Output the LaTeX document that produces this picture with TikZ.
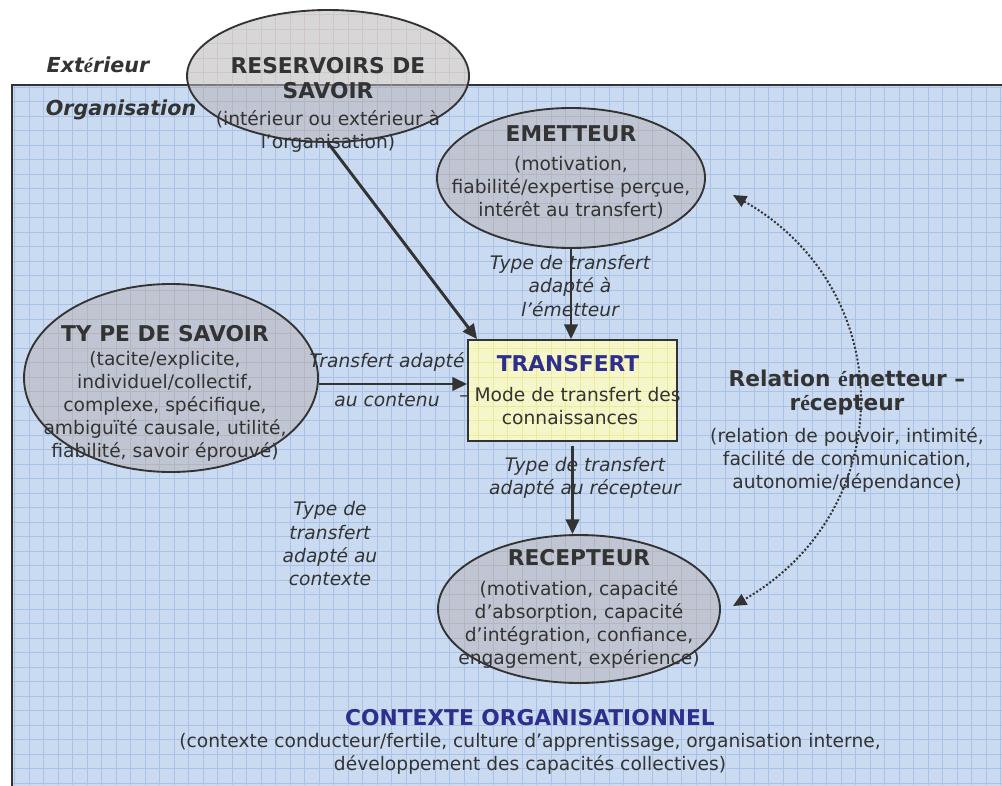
\documentclass[tikz,border=0pt]{standalone}
\usepackage{fontspec}
\setmainfont{DejaVu Sans}
\newfontfamily\serifE{Liberation Serif}
\usetikzlibrary{shapes.geometric,arrows.meta}
\definecolor{txt}{HTML}{333333}
\definecolor{bluebg}{HTML}{CADBF1}
\definecolor{bluegrid}{HTML}{A9C3E8}
\definecolor{ellfill}{RGB}{182,180,186}
\definecolor{ellgrid}{RGB}{196,170,160}
\definecolor{boxfill}{HTML}{F6F6CB}
\definecolor{boxgrid}{HTML}{EBEB9A}
\definecolor{titleblue}{HTML}{2E2E8E}
\newcommand\myellipse[5]{%
  \fill[ellfill, opacity=0.55] (#2,#3) ellipse [x radius=#4/2, y radius=#5/2];
  \begin{scope}
    \clip (#2,#3) ellipse [x radius=#4/2, y radius=#5/2];
    \draw[ellgrid, opacity=0.35, line width=0.4pt, step=10.875pt] (0,0) grid (1002,785);
  \end{scope}
  \node[ell, minimum width=#4, minimum height=#5] (#1) at (#2,#3) {};
}
\begin{document}
\begin{tikzpicture}[x=0.75pt,y=-0.75pt,
 ell/.style={ellipse, draw=txt, line width=1.4pt, inner sep=0pt},
 body/.style={text=txt, align=center, font=\fontsize{14}{17.25}\selectfont},
 head/.style={text=txt, align=center, font=\fontsize{16.3}{18.75}\selectfont\bfseries},
 lab/.style={text=txt, align=center, font=\fontsize{14}{17.5}\selectfont\itshape},
 arr/.style={draw=txt, line width=2.2pt, -{Triangle[length=11pt,width=10pt]}},
]
\useasboundingbox (0,0) rectangle (1002,785);
% organisation area
\fill[bluebg] (12,85) rectangle (1010,800);
\begin{scope}
  \clip (12,85) rectangle (1010,800);
  \draw[bluegrid, line width=0.5pt, step=10.875pt] (0,0) grid (1002,785);
\end{scope}
\draw[txt, line width=1.6pt] (12,800) -- (12,85) -- (1010,85);

\node[text=txt, font=\fontsize{15.5}{18}\selectfont\bfseries\itshape] (ext) at (98,65) {Ext{\serifE é}rieur};
\node[text=txt, font=\fontsize{15.5}{18}\selectfont\bfseries\itshape] (org) at (121,110) {Organisation};

% ellipses
\myellipse{res}{328}{76}{211.5pt}{99pt}
\myellipse{emet}{571}{178}{201pt}{105pt}
\myellipse{sav}{171}{378}{220.5pt}{141pt}
\myellipse{rec}{579}{609}{211.5pt}{111pt}

% transfert box
\fill[boxfill] (468,340) rectangle (677,441);
\begin{scope}
  \clip (468,340) rectangle (677,441);
  \draw[boxgrid, line width=0.4pt, step=10.875pt] (0,0) grid (1002,785);
\end{scope}
\node[draw=txt, line width=1.4pt, minimum width=156.75pt, minimum height=75.75pt, inner sep=0pt] (tr) at (572.5,390.5) {};

% texts
\node[head] (resT) at (328,78) {RESERVOIRS DE\\SAVOIR};
\node[body] (resB) at (328,131) {(intérieur ou extérieur à\\l’organisation)};
\node[head] (emetT) at (571,134) {EMETTEUR};
\node[body] (emetB) at (571,188) {(motivation,\\fiabilité/expertise perçue,\\intérêt au transfert)};
\node[head] (savT) at (165,334) {TY PE DE SAVOIR};
\node[body] (savB) at (165,406) {(tacite/explicite,\\individuel/collectif,\\complexe, spécifique,\\ambiguïté causale, utilité,\\fiabilité, savoir éprouvé)};
\node[head, text=titleblue] (trT) at (568,364) {TRANSFERT};
\node[body] (trB) at (570,406) {– Mode de transfert des\\connaissances};
\node[head] (recT) at (579,558) {RECEPTEUR};
\node[body] (recB) at (579,624) {(motivation, capacité\\d’absorption, capacité\\d’intégration, confiance,\\engagement, expérience)};
\node[head, font=\fontsize{16.3}{18}\selectfont\bfseries] (relT) at (847,392) {Relation {\serifE é}metteur –\\r{\serifE é}cepteur};
\node[body] (relB) at (847,460) {(relation de pouvoir, intimité,\\facilité de communication,\\autonomie/dépendance)};
\node[head, text=titleblue] (ctxT) at (530,718) {CONTEXTE ORGANISATIONNEL};
\node[body] (ctxB) at (530,754) {(contexte conducteur/fertile, culture d’apprentissage, organisation interne,\\développement des capacités collectives)};

\node[lab] (l1) at (570,286) {Type de transfert\\adapté à\\l’émetteur};
\node[lab] (l2) at (387,362) {Transfert adapté};
\node[lab] (l3) at (387,400) {au contenu};
\node[lab] (l4) at (585,478) {Type de transfert\\adapté au récepteur};
\node[lab] (l5) at (330,544) {Type de\\transfert\\adapté au\\contexte};

% arrows
\draw[arr] (res.south) -- ([xshift=7.5pt]tr.north west);
\draw[arr] (emet.south) -- (emet.south |- tr.north);
\draw[arr] (sav.east |- 0,384) -- (tr.west |- 0,384);
\draw[arr, shorten <=3pt] (tr.south) -- (tr.south |- rec.north);

\coordinate (d1) at (733,195);
\coordinate (d2) at (733,606);
\draw[txt, line width=1.5pt, dash pattern=on 1.5pt off 1.5pt, {Triangle[length=10pt,width=9pt]}-{Triangle[length=10pt,width=9pt]}] (d1) .. controls (900,290) and (900,510) .. (d2);
\end{tikzpicture}
\end{document}
